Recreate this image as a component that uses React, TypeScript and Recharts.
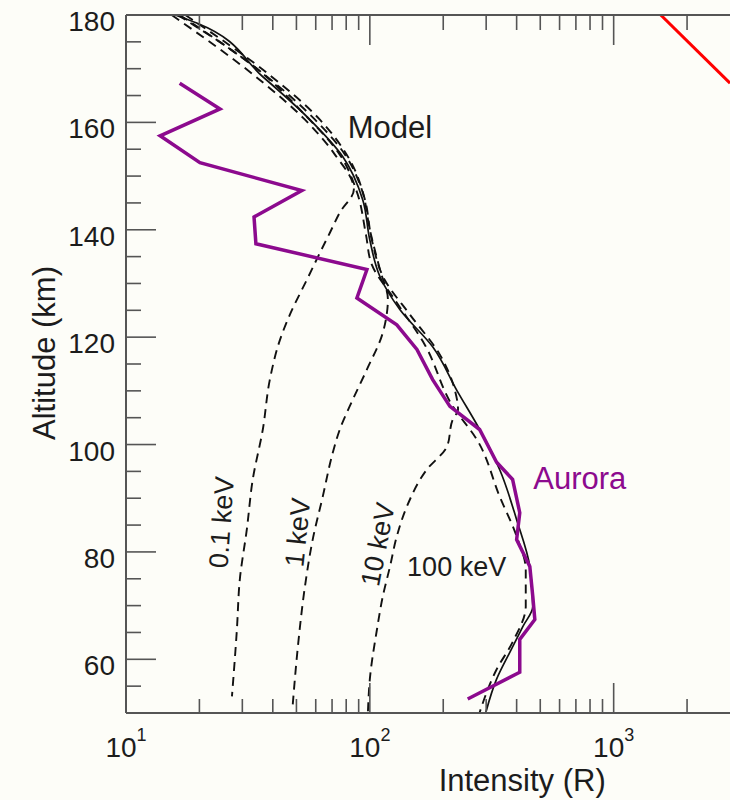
import React from 'react';
import { LineChart, Line, XAxis, YAxis, ReferenceDot, Label } from 'recharts';

const FONT = '"Liberation Sans", Arial, Helvetica, sans-serif';
const INK = '#1c1c1c';
const AXIS = '#555555';
const PURPLE = '#8c0a8e';

// axis ticks
const xTicks = [10, 20, 30, 40, 50, 60, 70, 80, 90, 100, 200, 300, 400, 500, 600, 700, 800, 900, 1000, 2000];
const xMajor = [10, 100, 1000];
const yTicks = [55, 60, 65, 70, 75, 80, 85, 90, 95, 100, 105, 110, 115, 120, 125, 130, 135, 140, 145, 150, 155, 160, 165, 170, 175, 180];

// aurora profile (purple)
const auroraAltitude = [167.3, 162.5, 157.5, 152.5, 147.3, 142.4, 137.4, 132.6, 127.3, 122.3, 117.7, 112.1, 107.1, 102.8, 96.7, 93.5, 87.3, 82.3, 77.3, 71.7, 67.4, 63.7, 57.6, 52.6];
const auroraIntensity = [16.6, 24.3, 13.8, 20.1, 52.6, 33.5, 34.1, 97.3, 88.5, 129, 156, 181, 213, 282, 331, 385, 412, 400, 453, 466, 475, 412, 412, 252];

// model (solid)
const modelAltitude = [180, 178.5, 168.5, 160.5, 153.6, 145.6, 138.1, 131.3, 125.1, 118.2, 110, 102.8, 95.3, 86, 77.3, 69.9, 66.1, 61.3, 56.3, 50.1];
const modelIntensity = [15.9, 19.5, 36.4, 56.8, 77.5, 93.5, 100, 110, 133, 181, 228, 282, 341, 400, 453, 466, 424, 375, 331, 299];

// monoenergetic runs (dashed)
const kev01Altitude = [180, 167.9, 160.5, 154, 147.5, 143.2, 139.4, 135.7, 130.7, 124.2, 119.5, 112.1, 102.8, 93.5, 84.2, 74.9, 65.6, 53.1];
const kev01Intensity = [15.4, 35.4, 54.2, 71.9, 86, 75.3, 68.5, 62.4, 55.2, 47, 42.8, 38.9, 36.4, 33.1, 31.3, 29.3, 28.5, 27.2];

const kev1Altitude = [180, 168.8, 160.5, 154, 147.4, 140, 132.6, 127, 123.3, 120.8, 114, 108.4, 102.8, 98.5, 90.3, 82.3, 73.6, 62.4, 51.6];
const kev1Intensity = [16.6, 37.2, 59.6, 79.1, 92.8, 100, 110, 118.6, 116.4, 113, 97.3, 85.2, 75.3, 70.5, 64.1, 58.3, 54.2, 50.7, 48.3];

const kev10Altitude = [180, 168.8, 160.5, 153, 145.6, 138.1, 130.7, 124.2, 116.7, 110.2, 106.5, 104.7, 99.6, 95.3, 88.5, 82.9, 77.3, 71.7, 65.6, 56.3, 50.1];
const kev10Intensity = [17.5, 38.9, 62.4, 82.8, 95.5, 101.9, 115, 146, 194, 223, 230, 219, 207, 171, 142, 129, 121, 113, 107, 100, 98.2];

const kev100Altitude = [180, 169.8, 161.4, 154, 146.5, 139.1, 133.5, 127, 118.6, 107.1, 100.9, 90.3, 82.9, 76.7, 69.9, 63.2, 58.1, 50.1];
const kev100Intensity = [16.3, 34.8, 54.2, 75.3, 89.3, 96.4, 101.9, 126.5, 168, 219, 275, 341, 400, 436, 436, 385, 331, 282];

// red line, top right corner
const redAltitude = [180, 167.3];
const redIntensity = [1560, 3000];

const annotations = [
  { text: 'Model', x: 121, alt: 159, color: INK, angle: 0, size: 31 },
  { text: 'Aurora', x: 726, alt: 93.7, color: PURPLE, angle: 0, size: 31 },
  { text: '100 keV', x: 227, alt: 77.1, color: INK, angle: 0, size: 27 },
  { text: '0.1 keV', x: 24.7, alt: 85.5, color: INK, angle: -86, size: 27 },
  { text: '1 keV', x: 50.7, alt: 83.6, color: INK, angle: -84, size: 27 },
  { text: '10 keV', x: 108, alt: 81.4, color: INK, angle: -79, size: 27 },
];

const zip = (xs: number[], alts: number[]) => xs.map((x, i) => ({ x, alt: alts[i] }));

const aurora = zip(auroraIntensity, auroraAltitude);
const model = zip(modelIntensity, modelAltitude);
const dashed = [
  zip(kev01Intensity, kev01Altitude),
  zip(kev1Intensity, kev1Altitude),
  zip(kev10Intensity, kev10Altitude),
  zip(kev100Intensity, kev100Altitude),
];
const red = zip(redIntensity, redAltitude);

const BottomTick = (p: any) => {
  const v = p.payload.value;
  const major = xMajor.includes(v);
  return (
    <g>
      <line x1={p.x} x2={p.x} y1={p.y} y2={p.y - (major ? 30 : 14)} stroke={AXIS} strokeWidth={1.6} />
      {major && (
        <text x={p.x} y={p.y + 44} textAnchor="middle" fontSize={28} fontFamily={FONT} fill={INK}>
          <tspan>10</tspan>
          <tspan dy={-16} fontSize={18}>{Math.round(Math.log10(v))}</tspan>
        </text>
      )}
    </g>
  );
};

const TopTick = (p: any) => {
  const major = xMajor.includes(p.payload.value);
  return <line x1={p.x} x2={p.x} y1={p.y} y2={p.y + (major ? 30 : 15)} stroke={AXIS} strokeWidth={1.6} />;
};

const LeftTick = (p: any) => {
  const v = p.payload.value;
  const major = v % 20 === 0;
  return (
    <g>
      <line x1={p.x} x2={p.x + (major ? 30 : 15)} y1={p.y} y2={p.y} stroke={AXIS} strokeWidth={1.6} />
      {major && (
        <text x={p.x - 11} y={p.y + 16} textAnchor="end" fontSize={28} fontFamily={FONT} fill={INK}>
          {v}
        </text>
      )}
    </g>
  );
};

const YTitle = (p: any) => {
  const vb = p.viewBox;
  const cx = vb.x + 55;
  const cy = vb.y + vb.height / 2 - 11;
  return (
    <text x={cx} y={cy} transform={`rotate(-90, ${cx}, ${cy})`} textAnchor="middle" fontSize={31} fontFamily={FONT} fill={INK}>
      Altitude (km)
    </text>
  );
};

const XTitle = (p: any) => {
  const vb = p.viewBox;
  return (
    <text x={vb.x + vb.width * 0.656} y={vb.y + 78} textAnchor="middle" fontSize={31} fontFamily={FONT} fill={INK}>
      Intensity (R)
    </text>
  );
};

export default function App() {
  return (
    <div style={{ position: 'fixed', left: 0, top: 0, width: 730, height: 800, background: '#fdfdf8', overflow: 'hidden' }}>
      <LineChart width={730} height={800} margin={{ top: 0, right: 0, bottom: 0, left: 0 }}>
        <XAxis
          dataKey="x"
          type="number"
          scale="log"
          domain={[10, 3000]}
          allowDataOverflow
          ticks={xTicks}
          interval={0}
          tick={BottomTick}
          tickLine={false}
          tickSize={0}
          tickMargin={0}
          height={87}
          axisLine={{ stroke: AXIS, strokeWidth: 2 }}
        >
          <Label content={XTitle} />
        </XAxis>
        <XAxis
          xAxisId="top"
          orientation="top"
          dataKey="x"
          type="number"
          scale="log"
          domain={[10, 3000]}
          allowDataOverflow
          ticks={xTicks}
          interval={0}
          tick={TopTick}
          tickLine={false}
          tickSize={0}
          tickMargin={0}
          height={15}
          axisLine={{ stroke: AXIS, strokeWidth: 2 }}
        />
        <YAxis
          type="number"
          domain={[50, 180]}
          allowDataOverflow
          ticks={yTicks}
          interval={0}
          tick={LeftTick}
          tickLine={false}
          tickSize={0}
          tickMargin={0}
          width={126}
          axisLine={{ stroke: AXIS, strokeWidth: 2 }}
        >
          <Label content={YTitle} />
        </YAxis>

        {dashed.map((d, i) => (
          <Line
            key={i}
            data={d}
            dataKey="alt"
            type="monotoneY"
            stroke="#111"
            strokeWidth={1.9}
            strokeDasharray="9 6"
            dot={false}
            isAnimationActive={false}
          />
        ))}
        <Line data={model} dataKey="alt" type="monotoneY" stroke="#111" strokeWidth={1.7} dot={false} isAnimationActive={false} />
        <Line data={aurora} dataKey="alt" type="linear" stroke={PURPLE} strokeWidth={3.5} dot={false} isAnimationActive={false} />
        <Line data={red} dataKey="alt" type="linear" stroke="#ff0000" strokeWidth={3} dot={false} isAnimationActive={false} />

        {annotations.map((a) => (
          <ReferenceDot
            key={a.text}
            x={a.x}
            y={a.alt}
            r={0}
            shape={(p: any) => (
              <text
                x={p.cx}
                y={p.cy}
                transform={`rotate(${a.angle}, ${p.cx}, ${p.cy})`}
                textAnchor="middle"
                dominantBaseline="central"
                fontSize={a.size}
                fontFamily={FONT}
                fill={a.color}
              >
                {a.text}
              </text>
            )}
          />
        ))}
      </LineChart>
    </div>
  );
}
